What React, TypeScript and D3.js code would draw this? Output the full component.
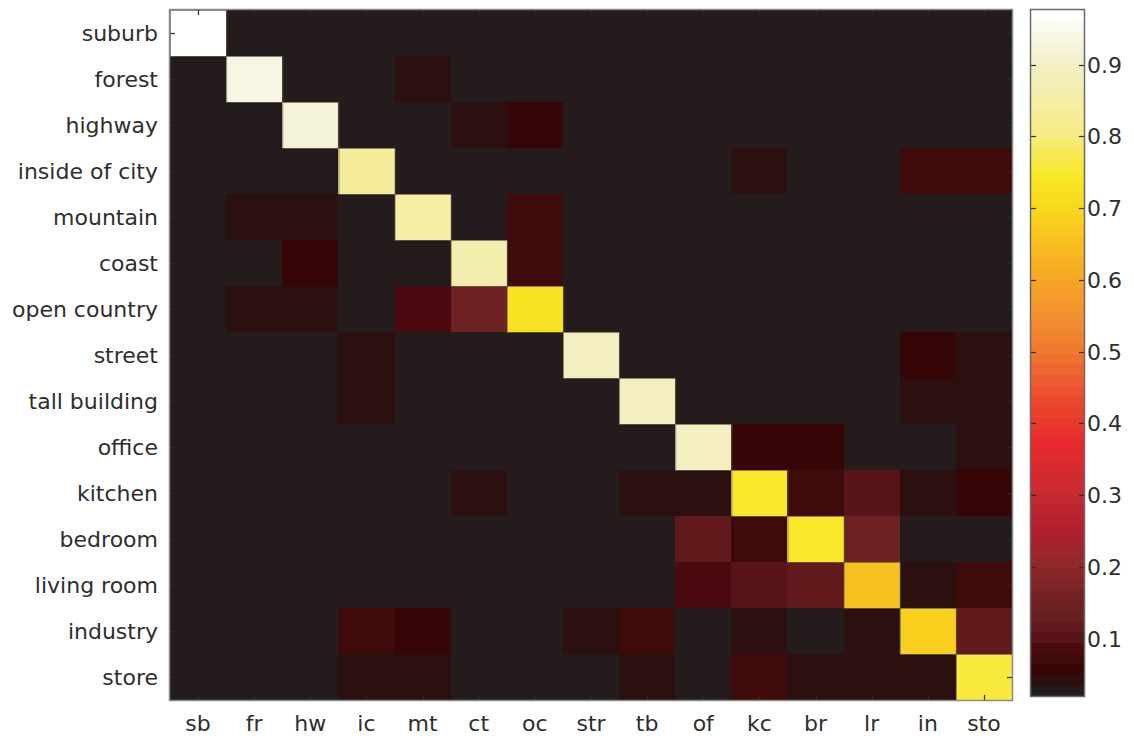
import React from "react";
import * as d3 from "d3";

const rowLabels = [
  "suburb", "forest", "highway", "inside of city", "mountain", "coast",
  "open country", "street", "tall building", "office", "kitchen",
  "bedroom", "living room", "industry", "store",
];
const colLabels = [
  "sb", "fr", "hw", "ic", "mt", "ct", "oc", "str", "tb", "of", "kc", "br", "lr", "in", "sto",
];

// confusion matrix (rows: true class, cols: predicted)
const confusion: number[][] = [
  [0.975, 0.02, 0.02, 0.02, 0.02, 0.02, 0.02, 0.02, 0.02, 0.02, 0.02, 0.02, 0.02, 0.02, 0.02],
  [0.02, 0.94, 0.02, 0.02, 0.04, 0.02, 0.02, 0.02, 0.02, 0.02, 0.02, 0.02, 0.02, 0.02, 0.02],
  [0.02, 0.02, 0.92, 0.02, 0.02, 0.04, 0.055, 0.02, 0.02, 0.02, 0.02, 0.02, 0.02, 0.02, 0.02],
  [0.02, 0.02, 0.02, 0.83, 0.02, 0.02, 0.02, 0.02, 0.02, 0.02, 0.04, 0.02, 0.02, 0.068, 0.068],
  [0.02, 0.04, 0.04, 0.02, 0.845, 0.02, 0.068, 0.02, 0.02, 0.02, 0.02, 0.02, 0.02, 0.02, 0.02],
  [0.02, 0.02, 0.055, 0.02, 0.02, 0.87, 0.068, 0.02, 0.02, 0.02, 0.02, 0.02, 0.02, 0.02, 0.02],
  [0.02, 0.04, 0.04, 0.02, 0.085, 0.15, 0.73, 0.02, 0.02, 0.02, 0.02, 0.02, 0.02, 0.02, 0.02],
  [0.02, 0.02, 0.02, 0.04, 0.02, 0.02, 0.02, 0.89, 0.02, 0.02, 0.02, 0.02, 0.02, 0.055, 0.04],
  [0.02, 0.02, 0.02, 0.04, 0.02, 0.02, 0.02, 0.02, 0.9, 0.02, 0.02, 0.02, 0.02, 0.04, 0.04],
  [0.02, 0.02, 0.02, 0.02, 0.02, 0.02, 0.02, 0.02, 0.02, 0.89, 0.055, 0.055, 0.02, 0.02, 0.04],
  [0.02, 0.02, 0.02, 0.02, 0.02, 0.04, 0.02, 0.02, 0.04, 0.04, 0.745, 0.068, 0.1, 0.04, 0.055],
  [0.02, 0.02, 0.02, 0.02, 0.02, 0.02, 0.02, 0.02, 0.02, 0.12, 0.068, 0.745, 0.15, 0.02, 0.02],
  [0.02, 0.02, 0.02, 0.02, 0.02, 0.02, 0.02, 0.02, 0.02, 0.085, 0.1, 0.12, 0.655, 0.04, 0.068],
  [0.02, 0.02, 0.02, 0.068, 0.055, 0.02, 0.02, 0.04, 0.068, 0.02, 0.04, 0.02, 0.04, 0.69, 0.12],
  [0.02, 0.02, 0.02, 0.04, 0.04, 0.02, 0.02, 0.02, 0.04, 0.02, 0.068, 0.04, 0.04, 0.04, 0.765],
];

const colorTicks = [0.1, 0.2, 0.3, 0.4, 0.5, 0.6, 0.7, 0.8, 0.9];
const vMin = 0.02;
const vMax = 0.976;

const cmapStops = [0.0275, 0.0424, 0.0573, 0.0723, 0.0872, 0.102, 0.13, 0.16, 0.2, 0.25, 0.3, 0.37, 0.4, 0.45, 0.5, 0.55, 0.6, 0.65, 0.7, 0.74, 0.77, 0.8, 0.85, 0.9, 0.94, 0.97];
const cmapColors = ["#241c1c", "#2c1010", "#360606", "#3e0a0a", "#4a0a10", "#581418", "#662020", "#742222", "#8c2a28", "#b02030", "#c42a30", "#e82a2e", "#e9372c", "#ec5530", "#ef7830", "#f29030", "#f5a625", "#f7bd20", "#f8d81c", "#f9e625", "#f8ea48", "#f6ec80", "#f5eea5", "#f3efc5", "#f6f6e4", "#ffffff"];

const NB = 64;
const cmap = d3.scaleLinear<string>().domain(cmapStops).range(cmapColors).interpolate(d3.interpolateRgb).clamp(true);
const bandOf = (v: number) => Math.max(0, Math.min(NB - 1, Math.floor(((v - vMin) / (vMax - vMin)) * NB)));
const bandColor = (k: number) => cmap(vMin + ((k + 0.5) / NB) * (vMax - vMin));

const W = 1134, H = 740;
const plot = { x0: 170, x1: 1012, y0: 10, y1: 700 };
const cbar = { x0: 1031, x1: 1084, y0: 10, y1: 696 };
const FONT = "'DejaVu Sans', sans-serif";
const FS = 22;

export default function App() {
  const x = d3.scaleBand<string>().domain(colLabels).range([plot.x0, plot.x1]);
  const y = d3.scaleBand<string>().domain(rowLabels).range([plot.y0, plot.y1]);
  const cy = d3.scaleLinear().domain([vMin, vMax]).range([cbar.y1, cbar.y0]);
  const bands = d3.range(NB);
  const tl = 5;

  return (
    <svg width={W} height={H} style={{ position: "absolute", left: 0, top: 0, background: "#fff" }}>
      <rect x={0} y={0} width={W} height={H} fill="#fff" />
      {confusion.map((row, i) =>
        row.map((v, j) => (
          <rect
            key={`c${i}-${j}`}
            x={x(colLabels[j])!}
            y={y(rowLabels[i])!}
            width={x.bandwidth() + 0.5}
            height={y.bandwidth() + 0.5}
            fill={bandColor(bandOf(v))}
            shapeRendering="crispEdges"
          />
        ))
      )}
      {confusion.map((row, i) => (
        <rect
          key={`d${i}`}
          x={x(colLabels[i])! + 0.5}
          y={y(rowLabels[i])! + 0.5}
          width={x.bandwidth()}
          height={y.bandwidth()}
          fill="none"
          stroke="#6a6048"
          strokeOpacity={0.75}
          strokeWidth={1}
        />
      ))}
      {colLabels.map((c) => {
        const cx = Math.round(x(c)! + x.bandwidth() / 2) + 0.5;
        return (
          <g key={`xt${c}`} stroke="#2a2a2a" strokeWidth={1.2}>
            <line x1={cx} x2={cx} y1={plot.y0} y2={plot.y0 + tl} />
            <line x1={cx} x2={cx} y1={plot.y1} y2={plot.y1 - tl} />
          </g>
        );
      })}
      {rowLabels.map((r) => {
        const ry = Math.round(y(r)! + y.bandwidth() / 2) + 0.5;
        return (
          <g key={`yt${r}`} stroke="#2a2a2a" strokeWidth={1.2}>
            <line x1={plot.x0} x2={plot.x0 + tl} y1={ry} y2={ry} />
            <line x1={plot.x1} x2={plot.x1 - tl} y1={ry} y2={ry} />
          </g>
        );
      })}
      <rect x={plot.x0 - 0.5} y={plot.y0 - 0.5} width={plot.x1 - plot.x0 + 1} height={plot.y1 - plot.y0 + 1} fill="none" stroke="#8a8a8a" strokeWidth={1.5} />
      {rowLabels.map((r) => (
        <text key={`yl${r}`} x={plot.x0 - 12} y={y(r)! + y.bandwidth() / 2} dy="0.36em" textAnchor="end" fontFamily={FONT} fontSize={FS} fill="#2e2e2e">
          {r}
        </text>
      ))}
      {colLabels.map((c) => (
        <text key={`xl${c}`} x={x(c)! + x.bandwidth() / 2} y={731} textAnchor="middle" fontFamily={FONT} fontSize={FS} fill="#2e2e2e">
          {c}
        </text>
      ))}
      {bands.map((k) => {
        const yTop = cy(vMin + ((k + 1) / NB) * (vMax - vMin));
        const yBot = cy(vMin + (k / NB) * (vMax - vMin));
        return (
          <rect key={`cb${k}`} x={cbar.x0} y={yTop} width={cbar.x1 - cbar.x0} height={yBot - yTop + 0.6} fill={bandColor(k)} shapeRendering="crispEdges" />
        );
      })}
      {colorTicks.map((t) => {
        const ty = Math.round(cy(t)) + 0.5;
        return (
          <g key={`ct${t}`}>
            <line x1={cbar.x0} x2={cbar.x0 + tl} y1={ty} y2={ty} stroke="#2a2a2a" strokeWidth={1.2} />
            <line x1={cbar.x1} x2={cbar.x1 - tl} y1={ty} y2={ty} stroke="#2a2a2a" strokeWidth={1.2} />
            <text x={cbar.x1 + 3} y={ty} dy="0.36em" fontFamily={FONT} fontSize={FS} fill="#2e2e2e">
              {d3.format(".1f")(t)}
            </text>
          </g>
        );
      })}
      <rect x={cbar.x0 - 0.5} y={cbar.y0 - 0.5} width={cbar.x1 - cbar.x0 + 1} height={cbar.y1 - cbar.y0 + 1} fill="none" stroke="#6a6a6a" strokeWidth={1.5} />
    </svg>
  );
}
